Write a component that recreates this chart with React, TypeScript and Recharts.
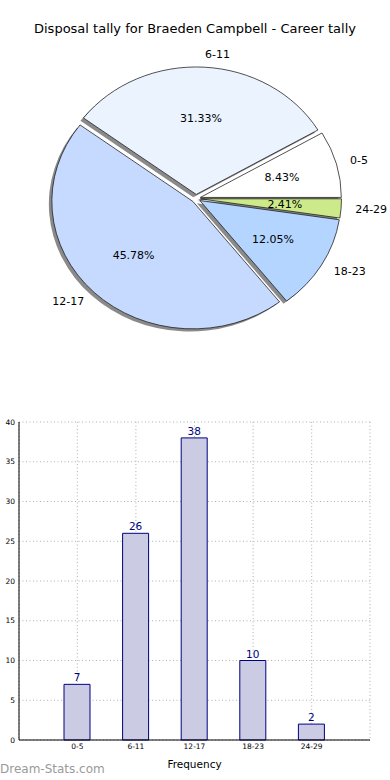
import React from "react"
import { PieChart, Pie, Cell, BarChart, Bar, XAxis, YAxis, CartesianGrid, LabelList } from "recharts"

// disposal bins and how many games fell in each
const categories = ["0-5", "6-11", "12-17", "18-23", "24-29"]
const counts = [7, 26, 38, 10, 2]
const sliceColors = ["#ffffff", "#ebf3ff", "#c6d9ff", "#b4d5ff", "#cdea8a"]
const yTicks = [0, 5, 10, 15, 20, 25, 30, 35, 40]

const FONT = "'DejaVu Sans', sans-serif"
const CX = 196
const CY = 198.5
const R = 141
const SQUASH = 0.904 // the original pie is a bit flattened
const EXPLODE = 4.5
const SHADOW = 3
const RAD = Math.PI / 180

const total = counts.reduce((a, b) => a + b, 0)

const slices = (() => {
  let acc = 0
  return categories.map((name, i) => {
    const start = (acc / total) * 360
    acc += counts[i]
    const end = (acc / total) * 360
    const mid = (start + end) / 2
    return {
      name,
      value: counts[i],
      pct: (counts[i] / total) * 100,
      start,
      end,
      dx: EXPLODE * Math.cos(mid * RAD),
      dy: -EXPLODE * Math.sin(mid * RAD),
      color: sliceColors[i],
    }
  })
})()

const barData = categories.map((name, i) => ({ name, value: counts[i] }))

function sliceLabel(s: any) {
  return (props: any) => {
    const { cx, cy, midAngle } = props
    const cos = Math.cos(-midAngle * RAD)
    const sin = Math.sin(-midAngle * RAD)
    const nx = cx + R * 1.1 * cos
    const ny = cy + R * 1.1 * sin
    const px = cx + R * 0.6 * cos
    const py = cy + R * 0.6 * sin
    const common = { fontSize: 11, fontFamily: FONT, fill: "#000", dominantBaseline: "central" as const }
    return (
      <g>
        <text transform={`translate(${nx},${ny}) scale(1,${1 / SQUASH})`} textAnchor={cos > 0 ? "start" : "end"} {...common}>
          {s.name}
        </text>
        <text transform={`translate(${px},${py}) scale(1,${1 / SQUASH})`} textAnchor="middle" {...common}>
          {s.pct.toFixed(2)}%
        </text>
      </g>
    )
  }
}

export default function App() {
  return (
    <div style={{ position: "absolute", left: 0, top: 0, width: 390, height: 780, background: "#fff", fontFamily: FONT, overflow: "hidden" }}>
      <div style={{ position: "absolute", left: 0, top: 21, width: 390, textAlign: "center", fontSize: 13, color: "#000" }}>
        Disposal tally for Braeden Campbell - Career tally
      </div>

      <div style={{ position: "absolute", left: 0, top: 0, transform: `scaleY(${SQUASH})`, transformOrigin: `${CX}px ${CY}px` }}>
        <PieChart width={390} height={400} margin={{ top: 0, right: 0, bottom: 0, left: 0 }}>
          {slices.map((s) => (
            <Pie
              key={"sh" + s.name}
              data={[s]}
              dataKey="value"
              cx={CX + s.dx - SHADOW}
              cy={CY + s.dy + SHADOW}
              outerRadius={R}
              startAngle={s.start}
              endAngle={s.end}
              fill="#8a8a8a"
              stroke="none"
              isAnimationActive={false}
            />
          ))}
          {slices.map((s) => (
            <Pie
              key={s.name}
              data={[s]}
              dataKey="value"
              cx={CX + s.dx}
              cy={CY + s.dy}
              outerRadius={R}
              startAngle={s.start}
              endAngle={s.end}
              stroke="#1a1a1a"
              strokeWidth={0.8}
              label={sliceLabel(s)}
              labelLine={false}
              isAnimationActive={false}
            >
              <Cell fill={s.color} />
            </Pie>
          ))}
        </PieChart>
      </div>

      <div style={{ position: "absolute", left: 0, top: 410 }}>
        <BarChart width={390} height={370} data={barData} margin={{ top: 12, right: 20, bottom: 10, left: 0 }}>
          <XAxis
            dataKey="name"
            padding={{ left: 29, right: 29 }}
            interval={0}
            tickLine={false}
            tickSize={0}
            tickMargin={4}
            axisLine={{ stroke: "#000" }}
            tick={{ fontSize: 7.5, fill: "#000", fontFamily: FONT }}
            height={30}
            label={{ value: "Frequency", position: "insideBottom", offset: 2, fontSize: 10.5, fill: "#000", fontFamily: FONT }}
          />
          <XAxis xAxisId="top" orientation="top" dataKey="name" height={0} tick={false} tickLine={false} axisLine={{ stroke: "#000" }} />
          <YAxis
            domain={[0, 40]}
            ticks={yTicks}
            width={19}
            tickLine={false}
            tickSize={0}
            tickMargin={4}
            axisLine={{ stroke: "#000" }}
            tick={{ fontSize: 7.5, fill: "#000", fontFamily: FONT }}
          />
          <YAxis yAxisId="right" orientation="right" domain={[0, 40]} width={0} tick={false} tickLine={false} axisLine={{ stroke: "#000" }} />
          <Bar dataKey="value" fill="#cbcbe3" stroke="#000080" strokeWidth={1} barSize={26} isAnimationActive={false}>
            <LabelList dataKey="value" position="top" offset={3} fill="#000080" fontSize={10.5} fontFamily={FONT} />
          </Bar>
          <CartesianGrid stroke="#b0b0b0" strokeDasharray="1 2.5" />
        </BarChart>
      </div>

      <div style={{ position: "absolute", left: 0, top: 762, fontSize: 12, color: "#9a9a9a" }}>
        Dream-Stats.com
      </div>
    </div>
  )
}
